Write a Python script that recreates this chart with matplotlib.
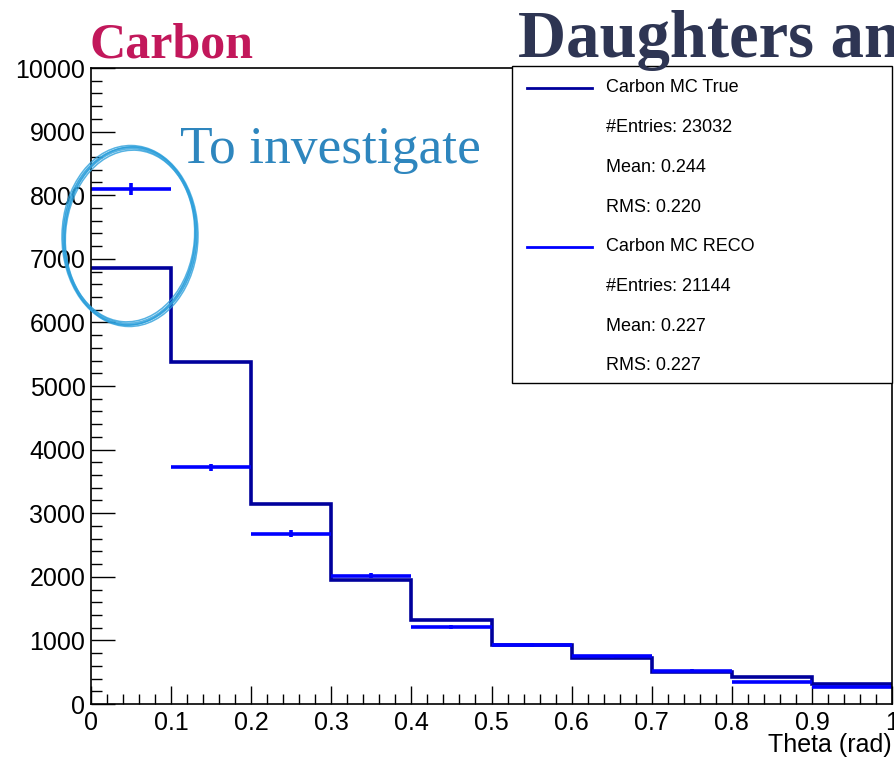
import matplotlib
matplotlib.use("Agg")
import matplotlib.pyplot as plt
from matplotlib.patches import Ellipse, Rectangle
from matplotlib.ticker import MultipleLocator

# Theta histograms, 10 bins of 0.1 rad
bin_edges = [0.0, 0.1, 0.2, 0.3, 0.4, 0.5, 0.6, 0.7, 0.8, 0.9, 1.0]
true_counts = [6850, 5370, 3150, 1950, 1320, 930, 730, 510, 430, 320]
reco_counts = [8100, 3720, 2680, 2020, 1210, 930, 750, 520, 350, 260]
reco_errors = [90, 61, 52, 45, 35, 30, 27, 23, 19, 16]

legend_rows = [
    ("Carbon MC True", "#00009c"),
    ("#Entries: 23032", None),
    ("Mean: 0.244", None),
    ("RMS: 0.220", None),
    ("Carbon MC RECO", "#0000ff"),
    ("#Entries: 21144", None),
    ("Mean: 0.227", None),
    ("RMS: 0.227", None),
]

plt.rcParams["font.family"] = ["Liberation Sans", "DejaVu Sans"]

fig = plt.figure(figsize=(8.94, 7.6), dpi=100)
ax = fig.add_axes([91 / 894, 1 - 704 / 760, 801 / 894, 636 / 760])

ax.stairs(true_counts, bin_edges, color="#00009c", lw=2.6, baseline=None)

centers = [(a + b) / 2 for a, b in zip(bin_edges[:-1], bin_edges[1:])]
widths = [(b - a) / 2 for a, b in zip(bin_edges[:-1], bin_edges[1:])]
ax.errorbar(centers, reco_counts, xerr=widths, yerr=reco_errors, fmt="none",
            ecolor="#0000ff", elinewidth=2.6, capsize=0)

ax.set_xlim(0, 1)
ax.set_ylim(0, 10000)
ax.xaxis.set_major_locator(MultipleLocator(0.1))
ax.xaxis.set_minor_locator(MultipleLocator(0.02))
ax.yaxis.set_major_locator(MultipleLocator(1000))
ax.yaxis.set_minor_locator(MultipleLocator(200))
ax.xaxis.set_major_formatter(plt.FuncFormatter(lambda v, p: f"{v:g}"))
ax.yaxis.set_major_formatter(plt.FuncFormatter(lambda v, p: f"{int(round(v))}"))
ax.tick_params(axis="x", which="major", direction="in", length=13, width=1, labelsize=18, pad=5)
ax.tick_params(axis="x", which="minor", direction="in", length=7, width=1)
ax.tick_params(axis="y", which="major", direction="in", length=17, width=1, labelsize=18, pad=4)
ax.tick_params(axis="y", which="minor", direction="in", length=8, width=1)
for s in ax.spines.values():
    s.set_linewidth(1.2)

ax.text(1.0, -41 / 636, "Theta (rad)", transform=ax.transAxes, ha="right", va="center", fontsize=18)

# stats legend box
box = Rectangle((0.5256, 0.5047), 0.4744, 0.4983, transform=ax.transAxes,
                facecolor="white", edgecolor="black", lw=1.0, zorder=5, clip_on=False)
ax.add_patch(box)
row_top = (704 - 88) / 636
row_step = 39.7 / 636
for i, (label, col) in enumerate(legend_rows):
    y = row_top - i * row_step
    if col:
        ax.plot([(527 - 91) / 801, (592 - 91) / 801], [y, y], color=col, lw=2,
                transform=ax.transAxes, zorder=6, clip_on=False)
    ax.text((606 - 91) / 801, y, label, transform=ax.transAxes, fontsize=13,
            va="center", ha="left", zorder=6)

# hand-drawn circle around first bin (figure inches)
for dw, dh, ang, lw in [(0, 0, -3, 2.0), (0.04, 0.05, -1, 1.1), (-0.03, -0.04, -5, 1.1),
                        (0.02, 0.02, -2, 0.9), (-0.015, 0.03, -4, 0.9)]:
    fig.patches.append(Ellipse((1.30, 5.24), 1.32 + dw, 1.76 + dh, angle=ang,
                               fill=False, edgecolor="#2c9fdb", lw=lw, alpha=0.8,
                               transform=fig.dpi_scale_trans, zorder=7))

fig.text(180 / 894, 1 - 163 / 760, "To investigate", fontsize=38.5, color="#2e86be",
         family=["Liberation Serif"], va="baseline", ha="left")
fig.text(90 / 894, 1 - 58 / 760, "Carbon", fontsize=36, color="#c2185b", weight="bold",
         family=["Liberation Serif"], va="baseline", ha="left")
fig.text(518 / 894, 1 - 57 / 760, "Daughters an", fontsize=48, color="#2e3553", weight="bold",
         family=["Liberation Serif"], va="baseline", ha="left", zorder=1)

fig.savefig("out.png", dpi=100)
